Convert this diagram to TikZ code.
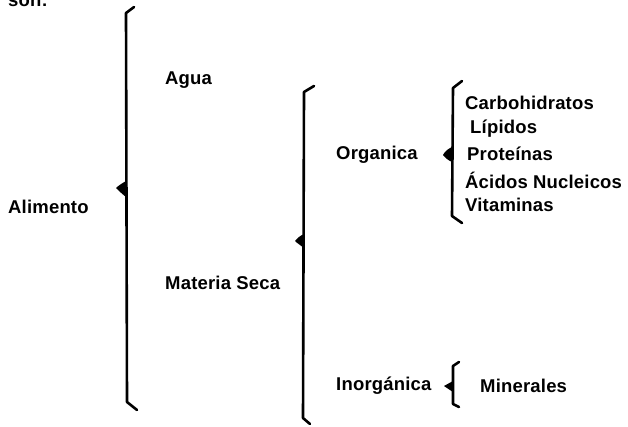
\documentclass[tikz,border=0pt]{standalone}
\usepackage{fontspec}
\setmainfont{Liberation Sans}[LetterSpace=1]
\begin{document}
\begin{tikzpicture}[x=1pt,y=-1pt,
  lbl/.style={font=\fontsize{18.5}{21}\selectfont\bfseries, inner sep=0pt, anchor=west},
  brk/.style={line width=2.6pt, line cap=round, line join=round},
  tip/.style={fill=black}]
\useasboundingbox (0,0) rectangle (628,426);
\fill[white] (0,0) rectangle (628,426);
% cut-off heading
\node[lbl, anchor=base west] (son) at (8,6) {son:};
% labels
\node[lbl] (alimento) at (8,207) {Alimento};
\node[lbl] (agua) at (165,80) {Agua};
\node[lbl] (materia) at (165,283) {Materia Seca};
\node[lbl] (organica) at (336,155) {Organica};
\node[lbl] (inorganica) at (336,386) {Inorgánica};
\node[lbl] (carbo) at (465,103) {Carbohidratos};
\node[lbl] (lipidos) at (470,129) {Lípidos};
\node[lbl] (proteinas) at (467,154) {Proteínas};
\node[lbl] (acidos) at (465,180) {Ácidos Nucleicos};
\node[lbl] (vitaminas) at (465,205) {Vitaminas};
\node[lbl] (minerales) at (480,386) {Minerales};
% bracket 1
\draw[brk] (134,7) -- (126,13) -- (127,402) -- (137,410);
\fill[tip] (126,181) .. controls (121,184) and (118,186) .. (116,188) .. controls (118,190) and (121,193) .. (126,197) -- cycle;
% bracket 2
\draw[brk] (314,86) -- (304,92) -- (303,418) -- (310,424);
\fill[tip] (304,234) .. controls (300,236) and (297,238) .. (295,241) .. controls (297,243) and (300,245) .. (304,248) -- cycle;
% bracket 3
\draw[brk] (462,81) -- (453,88) -- (452,216) -- (462,223);
\fill[tip] (452,147) .. controls (448,149) and (445,151) .. (443,155) .. controls (445,158) and (448,160) .. (452,162) -- cycle;
% bracket 4
\draw[brk] (459,362) -- (453,366) -- (453,404) -- (459,407);
\fill[tip] (453,381) .. controls (450,383) and (447,384) .. (444,386) .. controls (447,388) and (450,390) .. (453,392) -- cycle;
\end{tikzpicture}
\end{document}
